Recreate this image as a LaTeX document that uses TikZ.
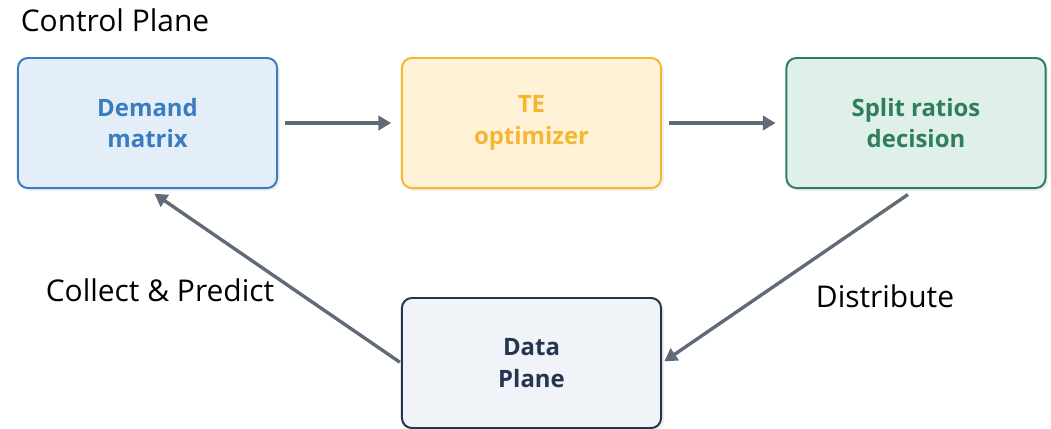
\documentclass[tikz,border=0pt]{standalone}
\usepackage{fontspec}
\setmainfont{Open Sans}
\usetikzlibrary{arrows.meta, positioning, shadows}

\definecolor{demandline}{HTML}{3A7CC0}
\definecolor{demandfill}{HTML}{E3EEF8}
\definecolor{teline}{HTML}{F5B731}
\definecolor{tefill}{HTML}{FFF2D6}
\definecolor{splitline}{HTML}{2F7D5F}
\definecolor{splitfill}{HTML}{DEF0E8}
\definecolor{dataline}{HTML}{243550}
\definecolor{datafill}{HTML}{F0F3F7}
\definecolor{arrowgray}{HTML}{5F6B77}

\tikzset{
    stagebox/.style={draw, rounded corners=7pt, line width=1.4pt, minimum width=6.475cm, minimum height=3.25cm,
        align=center, font=\fontsize{17}{22.5}\selectfont\bfseries,
        drop shadow={opacity=0.12, shadow xshift=2pt, shadow yshift=-2pt}},
    flow/.style={arrowgray, line width=2.4pt, -{Triangle[length=9pt, width=10pt]}},
    plainlabel/.style={font=\fontsize{21.3}{25}\selectfont}
}

\begin{document}
\begin{tikzpicture}[x=0.025cm, y=-0.025cm]
    \useasboundingbox (0,0) rectangle (1051,428);

    % stages of the control loop
    \node[stagebox, draw=demandline, fill=demandfill, text=demandline] (demand) at (147.5,123) {Demand\\matrix};
    \node[stagebox, draw=teline, fill=tefill, text=teline] (te) at (531.5,123) {TE\\optimizer};
    \node[stagebox, draw=splitline, fill=splitfill, text=splitline] (split) at (916,123) {Split ratios\\decision};
    \node[stagebox, draw=dataline, fill=datafill, text=dataline] (data) at (531.5,363) {Data\\Plane};

    % labels
    \node[plainlabel] (ctrl) at (115,20) {Control Plane};
    \node[plainlabel] (collect) at (160,290) {Collect \& Predict};
    \node[plainlabel] (distrib) at (885,296) {Distribute};

    % arrows
    \draw[flow, shorten <=5pt, shorten >=7pt] (demand) -- (te);
    \draw[flow, shorten <=5pt, shorten >=7pt] (te) -- (split);
    \draw[flow, shorten <=7pt, shorten >=2pt] (split.south) -- (data.east);
    \draw[flow, shorten <=1pt, shorten >=6pt] (data.west) -- (demand.south);
\end{tikzpicture}
\end{document}
